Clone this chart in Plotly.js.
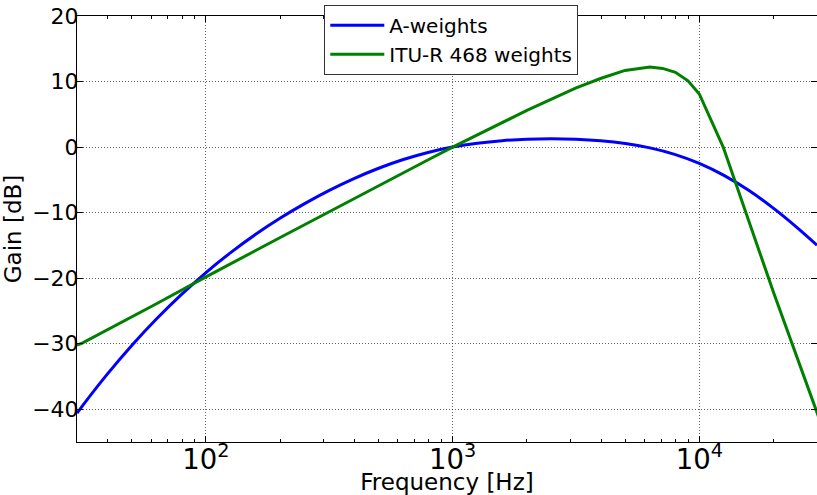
<!DOCTYPE html>
<html>
<head>
<meta charset="utf-8">
<script src="https://cdn.plot.ly/plotly-3.0.1.min.js"></script>
<style>html,body{margin:0;padding:0;background:#fff;}#chart{width:817px;height:495px;}</style>
</head>
<body>
<div id="chart"></div>
<script>
// A-weighting (blue), 1/3-octave base-10 frequencies
var freqA = [30, 31.62, 39.81, 50.12, 63.10, 79.43, 100, 125.9, 158.5, 199.5, 251.2, 316.2, 398.1, 501.2, 631.0, 794.3, 1000, 1259, 1585, 1995, 2512, 3162, 3981, 5012, 6310, 7943, 10000, 12589, 15849, 19953, 25119, 30000];
var gainA = [-40.61, -39.44, -34.64, -30.23, -26.20, -22.51, -19.14, -16.10, -13.35, -10.87, -8.63, -6.61, -4.81, -3.23, -1.90, -0.82, 0, 0.59, 0.98, 1.20, 1.27, 1.20, 0.97, 0.55, -0.12, -1.11, -2.49, -4.32, -6.60, -9.32, -12.40, -14.97];
// ITU-R 468 weighting (green)
var freqITU = [30, 31.5, 63, 100, 200, 400, 800, 1000, 2000, 3150, 4000, 5000, 6300, 7100, 8000, 9000, 10000, 12500, 14000, 16000, 20000, 31500];
var gainITU = [-30.2, -29.9, -23.9, -19.8, -13.8, -7.8, -1.9, 0, 5.6, 9.0, 10.5, 11.7, 12.2, 12.0, 11.4, 10.1, 8.1, 0, -5.3, -11.7, -22.2, -42.7];
var seriesNames = ['A-weights', 'ITU-R 468 weights'];
var yTicks = [-40, -30, -20, -10, 0, 10, 20];

var font = 'DejaVu Sans, sans-serif';
var traces = [
  {x: freqA, y: gainA, name: seriesNames[0], mode: 'lines', line: {color: '#0000ff', width: 3, shape: 'spline', smoothing: 0.8}},
  {x: freqITU, y: gainITU, name: seriesNames[1], mode: 'lines', line: {color: '#008000', width: 3}}
];
var axisCommon = {
  showline: true, linecolor: '#000', linewidth: 1, mirror: 'allticks',
  ticks: 'inside', ticklen: 6, tickwidth: 1, tickcolor: '#000',
  showgrid: true, gridcolor: '#000', gridwidth: 0.6, griddash: '1px,2px',
  zeroline: false, tickfont: {family: font, size: 22, color: '#000'}
};
var layout = {
  width: 817, height: 495,
  margin: {l: 77, r: 0, t: 16, b: 53},
  paper_bgcolor: '#fff', plot_bgcolor: '#fff',
  font: {family: font, color: '#000'},
  xaxis: Object.assign({}, axisCommon, {
    type: 'log', range: [Math.log10(30), Math.log10(30000)],
    dtick: 1, exponentformat: 'power', ticklabelstandoff: -6,
    minor: {ticks: 'inside', ticklen: 3, tickcolor: '#000', showgrid: false},
    title: {text: 'Frequency [Hz]', font: {family: font, size: 23, color: '#000'}, standoff: 8}
  }),
  yaxis: Object.assign({}, axisCommon, {
    range: [-45, 20], tickvals: yTicks, ticklabelstandoff: -7,
    title: {text: 'Gain [dB]', font: {family: font, size: 23, color: '#000'}, standoff: 4}
  }),
  legend: {
    x: 0.5058, xanchor: 'center', y: 1.0265, yanchor: 'top',
    bgcolor: '#fff', bordercolor: '#333', borderwidth: 1, itemwidth: 54,
    font: {family: font, size: 20, color: '#000'}, tracegroupgap: 0
  },
  showlegend: true
};
Plotly.newPlot('chart', traces, layout, {staticPlot: true});
</script>
</body>
</html>
